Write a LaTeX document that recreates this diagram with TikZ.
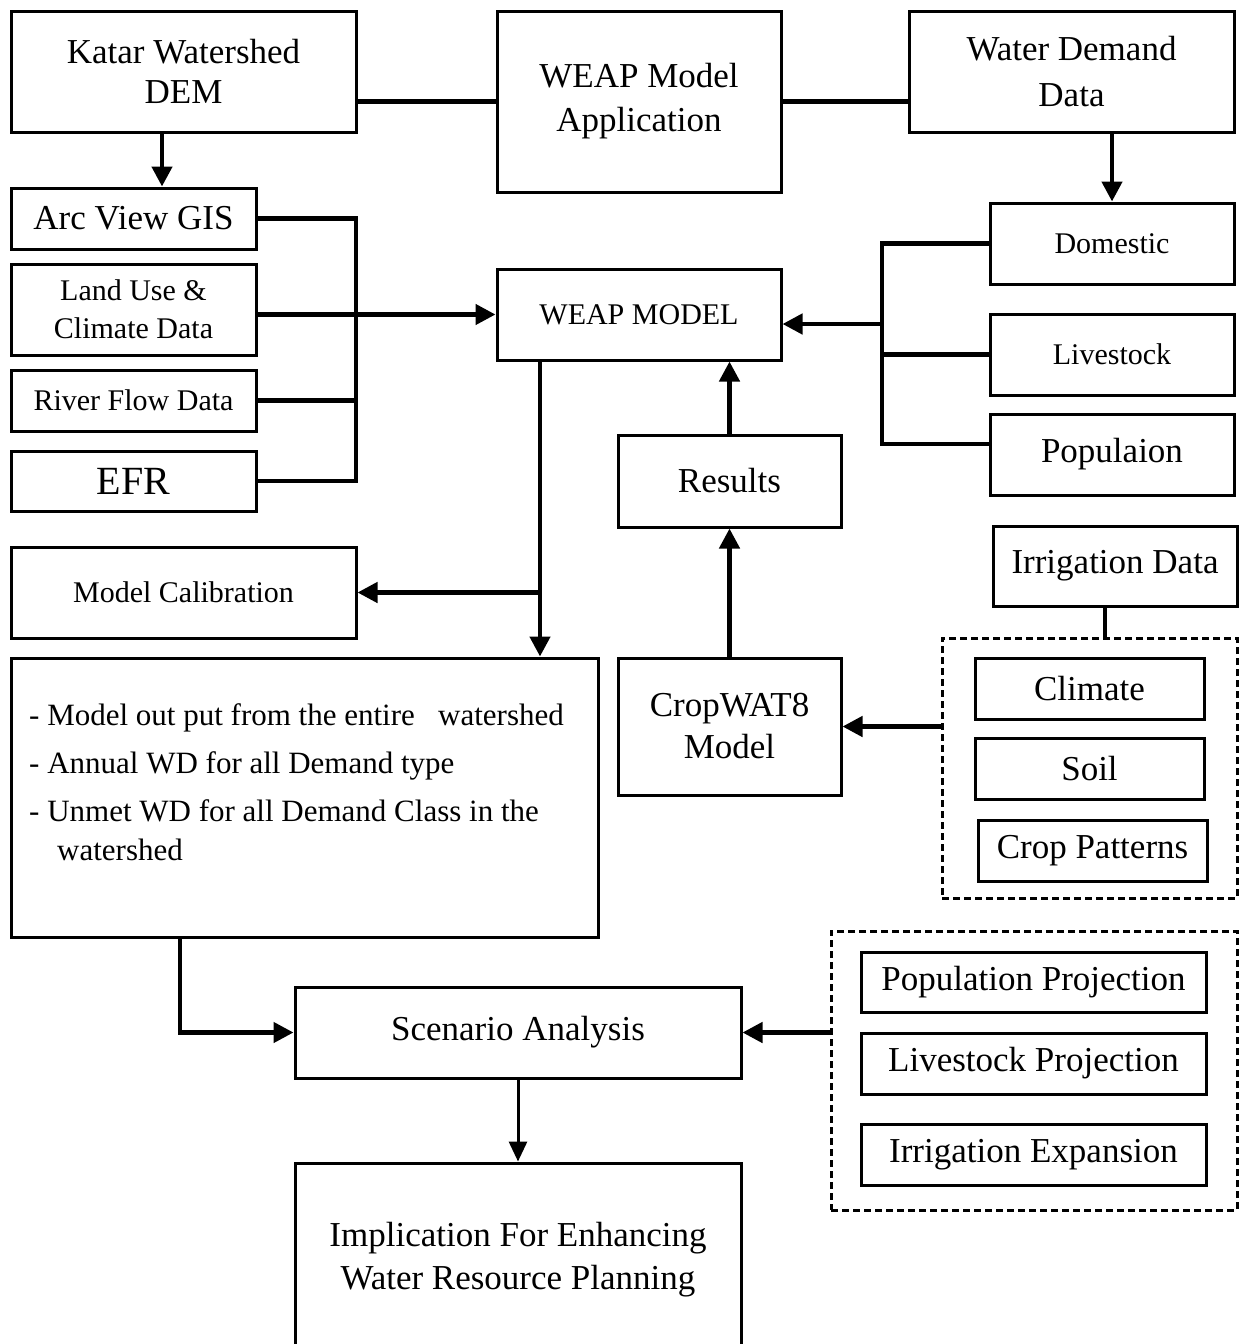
\documentclass[tikz,border=0pt]{standalone}
\usepackage{fontspec}
\setmainfont{Liberation Serif}
\usetikzlibrary{arrows.meta}

\tikzset{
  box/.style={draw, line width=3pt, align=center, inner sep=0pt, font=\fontsize{35}{42}\selectfont},
  small/.style={font=\fontsize{30}{38}\selectfont},
  dbox/.style={draw, line width=3pt, dash pattern=on 7pt off 4pt, inner sep=0pt},
  dims/.style 2 args={minimum width=#1pt, minimum height=#2pt},
  conn/.style={line width=4.5pt},
  arr/.style={line width=4.5pt, -{Triangle[length=20pt, width=20pt]}},
  arrthin/.style={line width=3pt, -{Triangle[length=20pt, width=18pt]}},
}

\begin{document}
\begin{tikzpicture}[x=1pt, y=-1pt]
      \useasboundingbox (0,0) rectangle (1239,1344);

      \node[box, dims={345}{121}, font=\fontsize{35}{40}\selectfont] (katar) at (183.5,71.5) {Katar Watershed\\DEM};
      \node[box, dims={284}{181}, font=\fontsize{35}{44}\selectfont] (weapapp) at (639,101.5) {WEAP Model\\Application};
      \node[box, dims={325}{121}, font=\fontsize{35}{46}\selectfont] (demand) at (1071.5,71.5) {Water Demand\\Data};
      \node[box, dims={245}{61}] (arcgis) at (133.5,218.5) {Arc View GIS};
      \node[box, small, dims={245}{91}] (landuse) at (133.5,309.5) {Land Use \&\\Climate Data};
      \node[box, small, dims={245}{61}] (riverflow) at (133.5,400.5) {River Flow Data};
      \node[box, dims={245}{60}, font=\fontsize{40}{48}\selectfont] (efr) at (133.5,481) {EFR};
      \node[box, small, dims={284}{91}] (weapmodel) at (639,314.5) {WEAP MODEL};
      \node[box, small, dims={244}{81}] (domestic) at (1112,243.5) {Domestic};
      \node[box, small, dims={244}{81}] (livestock) at (1112,354.5) {Livestock};
      \node[box, dims={244}{81}] (population) at (1112,454.5) {Populaion};
      \node[box, dims={223}{92}] (results) at (729.5,481) {Results};
      \node[box, small, dims={345}{91}] (calib) at (183.5,592.5) {Model Calibration};
      \node[box, dims={587}{279}] (output) at (304.5,797.5) {};
      \node[anchor=north west, align=left, inner sep=0pt, font=\fontsize{31}{39}\selectfont] (outtext) at (29,703)
        {- Model out put from the entire\ \ \ watershed\\[9pt]- Annual WD for all Demand type\\[9pt]- Unmet WD for all Demand Class in the\\\hspace*{28pt}watershed};
      \node[box, dims={223}{137}] (cropwat) at (729.5,726.5) {CropWAT8\\Model};
      \node[box, dims={244}{80}] (irrdata) at (1115,566) {Irrigation Data};
      \node[dbox, dims={295}{260}] (soildata) at (1089.5,768) {};
      \node[box, dims={229}{61}] (climate) at (1089.5,688.5) {Climate};
      \node[box, dims={229}{61}] (soil) at (1089.5,768.5) {Soil};
      \node[box, dims={229}{61}] (croppat) at (1092.5,850.5) {Crop Patterns};
      \node[box, dims={446}{91}] (scenario) at (518,1032.5) {Scenario Analysis};
      \node[dbox, dims={406}{279}] (projections) at (1034,1070.5) {};
      \node[box, dims={345}{60}] (popproj) at (1033.5,982) {Population Projection};
      \node[box, dims={345}{61}] (liveproj) at (1033.5,1063.5) {Livestock Projection};
      \node[box, dims={345}{61}] (irrexp) at (1033.5,1154.5) {Irrigation Expansion};
      \node[box, dims={446}{194}, font=\fontsize{35}{43}\selectfont] (implication) at (518,1260) {Implication For Enhancing\\Water Resource Planning};

      \coordinate (lbus) at (356,0);
      \coordinate (rbus) at (882,0);
      \coordinate (obus) at (540,0);
      \coordinate (rin) at (882,324);

      \draw[arr] ([xshift=-21.5pt]katar.south) -- ([xshift=28.5pt]arcgis.north);
      \draw[conn] (katar.east |- weapapp.west) -- (weapapp.west);
      \draw[conn] (weapapp.east) -- (weapapp.east -| demand.west);
      \draw[arr] (demand.south -| domestic.north) -- (domestic.north);
      \draw[conn] (arcgis.east) -| (lbus |- efr.east) -- (efr.east);
      \draw[conn] (riverflow.east) -- (riverflow.east -| lbus);
      \draw[arr] (landuse.east |- weapmodel.west) -- (weapmodel.west);
      \draw[conn] ([yshift=10.5pt]population.west) -| (rbus |- domestic.west) -- (domestic.west);
      \draw[conn] (livestock.west) -- (livestock.west -| rbus);
      \draw[arr] (rin) -- (rin -| weapmodel.east);
      \draw[arr] (results.north) -- (weapmodel.south -| results.north);
      \draw[arr] (cropwat.north) -- (results.south);
      \draw[conn] ([xshift=-10pt]irrdata.south) -- ([xshift=15.5pt]soildata.north);
      \draw[arr] (soildata.west |- cropwat.east) -- (cropwat.east);
      \draw[arr] (obus |- weapmodel.south) -- (obus |- output.north);
      \draw[arr] (obus |- calib.east) -- (calib.east);
      \draw[arr] ([xshift=-124.5pt]output.south) |- (scenario.west);
      \draw[arr] (projections.west |- scenario.east) -- (scenario.east);
      \draw[arrthin] (scenario.south) -- (implication.north);
\end{tikzpicture}
\end{document}
